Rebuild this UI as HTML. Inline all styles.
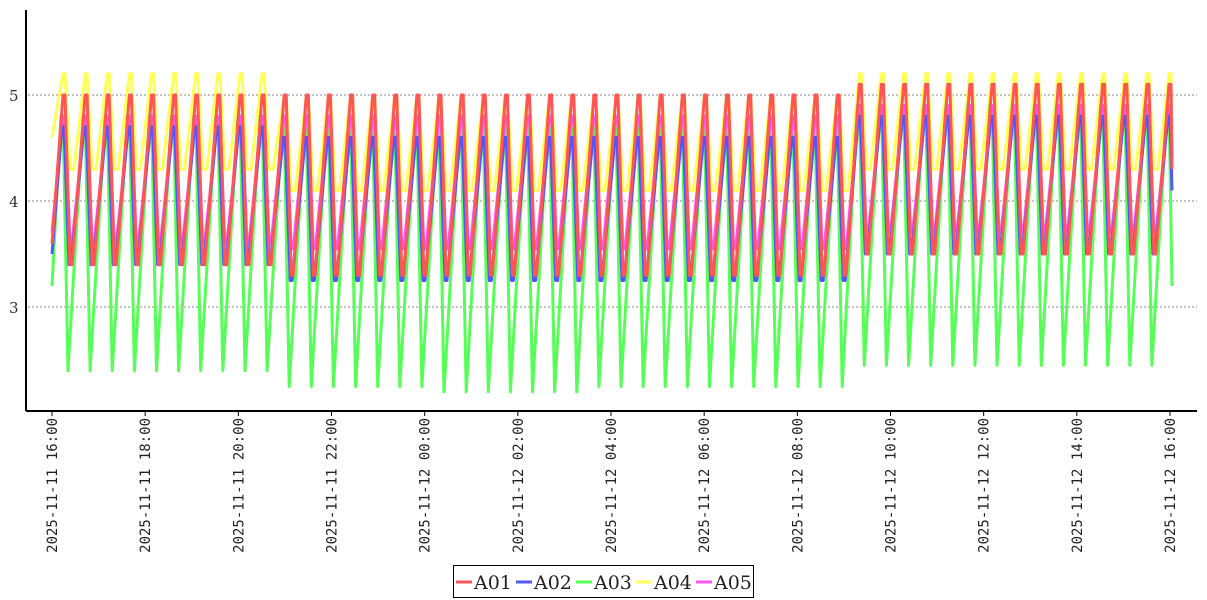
<!DOCTYPE html>
<html><head><meta charset="utf-8"><style>
html,body{margin:0;padding:0;background:#fff;}
svg{display:block;}
</style></head><body>
<svg id="s" width="1207" height="600" xmlns="http://www.w3.org/2000/svg" font-family="DejaVu Sans Mono, Liberation Mono, monospace">
<g stroke="#888" stroke-width="1" stroke-dasharray="2,2">
<line x1="28" y1="95" x2="1197" y2="95"/>
<line x1="28" y1="201" x2="1197" y2="201"/>
<line x1="28" y1="307" x2="1197" y2="307"/>
</g>
<g font-family="DejaVu Serif, Liberation Serif, serif" font-size="15" fill="#333">
<text x="9" y="101">5</text><text x="9" y="207">4</text><text x="9" y="313">3</text>
</g>
<g id="series" fill="none" stroke-width="3" stroke-linejoin="round"></g>
<line x1="26" y1="10" x2="26" y2="411" stroke="#000" stroke-width="2"/>
<line x1="26" y1="411" x2="1197" y2="411" stroke="#000" stroke-width="2"/>
<g id="xl" font-size="14" fill="#222"></g>
<rect x="453.5" y="565.5" width="300" height="32" fill="#fff" stroke="#000"/>
<g font-family="DejaVu Serif, Liberation Serif, serif" font-size="19" fill="#222">
<line x1="456" y1="582" x2="472" y2="582" stroke="#f55" stroke-width="3"/><text x="474" y="589">A01</text>
<line x1="516" y1="582" x2="532" y2="582" stroke="#55f" stroke-width="3"/><text x="534" y="589">A02</text>
<line x1="576" y1="582" x2="592" y2="582" stroke="#5f5" stroke-width="3"/><text x="594" y="589">A03</text>
<line x1="636" y1="582" x2="652" y2="582" stroke="#ff5" stroke-width="3"/><text x="654" y="589">A04</text>
<line x1="696" y1="582" x2="712" y2="582" stroke="#f5f" stroke-width="3"/><text x="714" y="589">A05</text>
</g>
</svg>
<script>
(function(){
var NS="http://www.w3.org/2000/svg";
var xl=document.getElementById('xl');
var labels=["2025-11-11  16:00","2025-11-11  18:00","2025-11-11  20:00","2025-11-11  22:00","2025-11-12  00:00","2025-11-12  02:00","2025-11-12  04:00","2025-11-12  06:00","2025-11-12  08:00","2025-11-12  10:00","2025-11-12  12:00","2025-11-12  14:00","2025-11-12  16:00"];
for(var i=0;i<13;i++){
 var x=52+i*1118/12;
 var l=document.createElementNS(NS,'line');
 l.setAttribute('x1',x);l.setAttribute('x2',x);l.setAttribute('y1',411);l.setAttribute('y2',416);l.setAttribute('stroke','#000');xl.appendChild(l);
 var t=document.createElementNS(NS,'text');
 t.setAttribute('transform','translate('+(x+5)+',418) rotate(-90)');
 t.setAttribute('text-anchor','end');t.setAttribute('xml:space','preserve');
 t.textContent=labels[i];xl.appendChild(t);
}
function Y(v){return 201-(v-4)*106;}
function prof(t,a,b,c){ if(t<0.2) return a; if(t<0.72) return b; return c; }
var P=22.12;
var S=[
 {c:"#ff5",lo:[4.3,4.1,4.3],hi:[5.2,5.0,5.2],po:0,bo:6,bw:4,st:4.6},
 {c:"#5f5",lo:[2.4,2.25,2.45],hi:[4.8,4.7,4.9],po:-2,bo:6,bw:0,st:3.2},
 {c:"#f5f",lo:[3.6,3.55,3.7],hi:[4.8,4.8,4.9],po:0,bo:6,bw:2,st:3.7},
 {c:"#55f",lo:[3.4,3.25,3.5],hi:[4.7,4.6,4.8],po:-1,bo:6,bw:2,st:3.5},
 {c:"#f55",lo:[3.4,3.3,3.5],hi:[5.0,5.0,5.1],po:0,bo:6,bw:2,st:3.6}
];
var ends=[4.3,3.2,4.4,4.1,4.3];
var g=document.getElementById('series');
S.forEach(function(s,k){
 var pts=[[52,s.st]];
 for(var n=0;n<52;n++){
  var p=64+n*P+s.po;
  var t=(p-52)/1118;
  var lo=prof(t,s.lo[0],s.lo[1],s.lo[2]), hi=prof(t,s.hi[0],s.hi[1],s.hi[2]);
  if(k==1 && t>0.33&&t<0.47) lo=2.2;
  if(n==0){ pts.push([p-1,hi]); }
  else {
   var prev=pts[pts.length-1];
   var x1=prev[0],v1=prev[1];
   var steps=5;
   for(var j=1;j<steps;j++){
    var xx=x1+(p-1-x1)*j/steps, vv=v1+(hi-v1)*j/steps;
    pts.push([xx,vv]);
   }
   pts.push([p-1,hi]);
  }
  pts.push([p+1,hi]);
  if(p+s.bo>1172){ break; }
  pts.push([p+s.bo,lo]);
  if(s.bw>0) pts.push([p+s.bo+s.bw,lo]);
 }
 pts.push([1172,ends[k]]);
 var out=pts.filter(function(q){return q[0]<=1172;}).map(function(q){return q[0].toFixed(1)+","+Y(q[1]).toFixed(1);});
 var pl=document.createElementNS(NS,'polyline');
 pl.setAttribute('points',out.join(' '));pl.setAttribute('stroke',s.c);
 g.appendChild(pl);
});
})();
</script>
</body></html>
